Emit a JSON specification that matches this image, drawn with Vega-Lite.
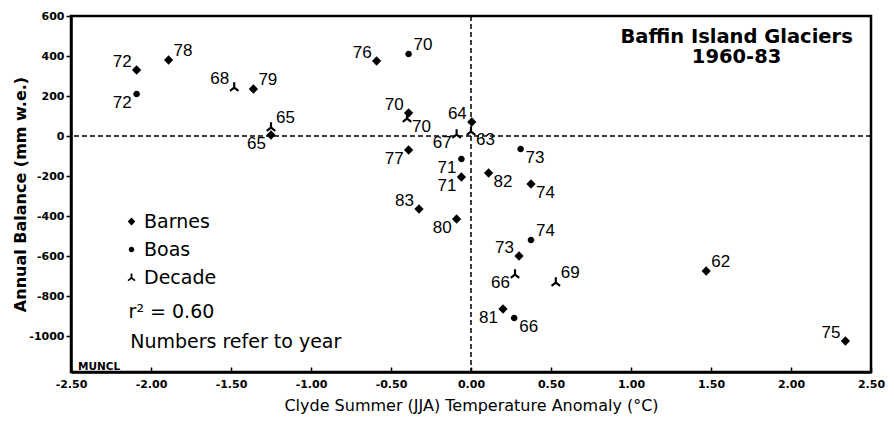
{
  "$schema": "https://vega.github.io/schema/vega-lite/v6.json",
  "width": 800,
  "height": 356,
  "autosize": {"type": "none"},
  "padding": {"left": 71, "top": 16, "right": 23, "bottom": 49},
  "background": "white",
  "config": {
    "view": {"stroke": "black", "strokeWidth": 2.5},
    "axis": {"domainColor": "black", "tickColor": "black", "labelColor": "black", "titleColor": "black", "grid": false, "domainWidth": 2.5, "tickWidth": 1.5},
    "legend": {"orient": "none", "legendX": 51, "legendY": 196, "padding": 0, "labelFont": "DejaVu Sans", "labelFontSize": 19, "labelColor": "black", "symbolFillColor": "black", "symbolStrokeColor": "black", "symbolStrokeWidth": 0, "symbolSize": 64, "rowPadding": 8, "labelOffset": 3}
  },
  "data": {"values": [
    {"glacier": "Barnes", "year": "72", "temp": -2.09, "balance": 330},
    {"glacier": "Boas", "year": "72", "temp": -2.09, "balance": 210},
    {"glacier": "Barnes", "year": "78", "temp": -1.89, "balance": 380},
    {"glacier": "Decade", "year": "68", "temp": -1.48, "balance": 245},
    {"glacier": "Barnes", "year": "79", "temp": -1.36, "balance": 235},
    {"glacier": "Decade", "year": "65", "temp": -1.25, "balance": 45},
    {"glacier": "Barnes", "year": "65", "temp": -1.25, "balance": 5},
    {"glacier": "Barnes", "year": "76", "temp": -0.59, "balance": 375},
    {"glacier": "Boas", "year": "70", "temp": -0.39, "balance": 410},
    {"glacier": "Barnes", "year": "70", "temp": -0.39, "balance": 115},
    {"glacier": "Decade", "year": "70", "temp": -0.40, "balance": 90},
    {"glacier": "Barnes", "year": "64", "temp": 0.005, "balance": 70},
    {"glacier": "Decade", "year": "63", "temp": 0.0, "balance": 25},
    {"glacier": "Decade", "year": "67", "temp": -0.09, "balance": 10},
    {"glacier": "Barnes", "year": "77", "temp": -0.39, "balance": -70},
    {"glacier": "Boas", "year": "71", "temp": -0.06, "balance": -115},
    {"glacier": "Barnes", "year": "71", "temp": -0.06, "balance": -205},
    {"glacier": "Barnes", "year": "82", "temp": 0.11, "balance": -185},
    {"glacier": "Boas", "year": "73", "temp": 0.31, "balance": -65},
    {"glacier": "Barnes", "year": "74", "temp": 0.375, "balance": -240},
    {"glacier": "Barnes", "year": "83", "temp": -0.325, "balance": -365},
    {"glacier": "Barnes", "year": "80", "temp": -0.09, "balance": -415},
    {"glacier": "Boas", "year": "74", "temp": 0.375, "balance": -520},
    {"glacier": "Barnes", "year": "73", "temp": 0.30, "balance": -600},
    {"glacier": "Decade", "year": "66", "temp": 0.275, "balance": -690},
    {"glacier": "Decade", "year": "69", "temp": 0.53, "balance": -730},
    {"glacier": "Barnes", "year": "81", "temp": 0.20, "balance": -865},
    {"glacier": "Boas", "year": "66", "temp": 0.27, "balance": -910},
    {"glacier": "Barnes", "year": "62", "temp": 1.47, "balance": -675},
    {"glacier": "Barnes", "year": "75", "temp": 2.34, "balance": -1025}
  ]},
  "layer": [
    {
      "data": {"values": [{}]},
      "mark": {"type": "rule", "strokeDash": [5, 3], "strokeWidth": 1.5, "color": "black"},
      "encoding": {"x": {"datum": 0, "type": "quantitative"}}
    },
    {
      "data": {"values": [{}]},
      "mark": {"type": "rule", "strokeDash": [5, 3], "strokeWidth": 1.5, "color": "black"},
      "encoding": {"y": {"datum": 0, "type": "quantitative"}}
    },
    {
      "mark": {"type": "point", "filled": true, "opacity": 1, "color": "black", "size": 95},
      "encoding": {
        "x": {"field": "temp", "type": "quantitative",
          "scale": {"domain": [-2.5, 2.5], "nice": false, "zero": false},
          "axis": {"title": "Clyde Summer (JJA) Temperature Anomaly (°C)", "values": [-2.5, -2, -1.5, -1, -0.5, 0, 0.5, 1, 1.5, 2, 2.5],
            "labelExpr": "(datum.value < 0 ? '-' : '') + format(abs(datum.value), '.2f')",
            "tickSize": -5, "labelPadding": 11, "labelFlush": false, "labelFont": "DejaVu Sans", "labelFontWeight": "bold", "labelFontSize": 11,
            "titleFont": "DejaVu Sans", "titleFontWeight": "normal", "titleFontSize": 16, "titlePadding": 8}},
        "y": {"field": "balance", "type": "quantitative",
          "scale": {"domain": [-1180, 600], "nice": false, "zero": false},
          "axis": {"title": "Annual Balance (mm w.e.)", "values": [-1000, -800, -600, -400, -200, 0, 200, 400, 600],
            "labelExpr": "(datum.value < 0 ? '-' : '') + abs(datum.value)",
            "tickSize": 5, "labelPadding": 2, "labelFlush": false, "labelFont": "DejaVu Sans", "labelFontWeight": "bold", "labelFontSize": 11,
            "titleFont": "DejaVu Sans", "titleFontWeight": "bold", "titleFontSize": 16, "titleX": -51, "titleBaseline": "middle"}},
        "shape": {"field": "glacier", "type": "nominal",
          "scale": {"domain": ["Barnes", "Boas", "Decade"], "range": [
            "M 0 -1 L 0.95 0 L 0 1 L -0.95 0 Z",
            "M 0.68 0 A 0.68 0.68 0 1 1 -0.68 0 A 0.68 0.68 0 1 1 0.68 0 Z",
            "M -0.22 -1 L 0.22 -1 L 0.22 0.02 L 1 0.6 L 0.76 0.95 L 0 0.4 L -0.76 0.95 L -1 0.6 L -0.22 0.02 Z"]},
          "legend": {"title": null}}
      }
    },
    {
      "transform": [{"filter": "indexof(['Barnes72','Decade68','Barnes76','Barnes70','Barnes64','Barnes83','Barnes73','Barnes75'], datum.glacier + datum.year) >= 0"}],
      "mark": {"type": "text", "align": "right", "baseline": "alphabetic", "dx": -5, "dy": -3, "font": "Liberation Sans Narrow, Liberation Sans", "fontSize": 17, "color": "black"},
      "encoding": {"x": {"field": "temp", "type": "quantitative"}, "y": {"field": "balance", "type": "quantitative"}, "text": {"field": "year"}}
    },
    {
      "transform": [{"filter": "indexof(['Barnes78','Barnes79','Decade65','Boas70','Boas74','Decade69','Barnes62'], datum.glacier + datum.year) >= 0"}],
      "mark": {"type": "text", "align": "left", "baseline": "alphabetic", "dx": 5, "dy": -4, "font": "Liberation Sans Narrow, Liberation Sans", "fontSize": 17, "color": "black"},
      "encoding": {"x": {"field": "temp", "type": "quantitative"}, "y": {"field": "balance", "type": "quantitative"}, "text": {"field": "year"}}
    },
    {
      "transform": [{"filter": "indexof(['Boas72','Barnes65','Decade67','Barnes77','Boas71','Barnes71','Barnes80','Decade66','Barnes81'], datum.glacier + datum.year) >= 0"}],
      "mark": {"type": "text", "align": "right", "baseline": "top", "dx": -5, "dy": 1, "font": "Liberation Sans Narrow, Liberation Sans", "fontSize": 17, "color": "black"},
      "encoding": {"x": {"field": "temp", "type": "quantitative"}, "y": {"field": "balance", "type": "quantitative"}, "text": {"field": "year"}}
    },
    {
      "transform": [{"filter": "indexof(['Decade70','Decade63','Barnes82','Boas73','Barnes74','Boas66'], datum.glacier + datum.year) >= 0"}],
      "mark": {"type": "text", "align": "left", "baseline": "top", "dx": 5, "dy": 1, "font": "Liberation Sans Narrow, Liberation Sans", "fontSize": 17, "color": "black"},
      "encoding": {"x": {"field": "temp", "type": "quantitative"}, "y": {"field": "balance", "type": "quantitative"}, "text": {"field": "year"}}
    },
    {
      "data": {"values": [{}]},
      "mark": {"type": "text", "text": ["Baffin Island Glaciers", "1960-83"], "align": "center", "baseline": "alphabetic", "font": "DejaVu Sans", "fontWeight": "bold", "fontSize": 19.5, "lineHeight": 20, "color": "black"},
      "encoding": {"x": {"datum": 1.66, "type": "quantitative"}, "y": {"datum": 465, "type": "quantitative"}}
    },
    {
      "data": {"values": [{}]},
      "mark": {"type": "text", "text": "r² = 0.60", "align": "left", "baseline": "alphabetic", "font": "DejaVu Sans", "fontSize": 19, "color": "black"},
      "encoding": {"x": {"datum": -2.14, "type": "quantitative"}, "y": {"datum": -910, "type": "quantitative"}}
    },
    {
      "data": {"values": [{}]},
      "mark": {"type": "text", "text": "Numbers refer to year", "align": "left", "baseline": "alphabetic", "font": "DejaVu Sans", "fontSize": 19, "color": "black"},
      "encoding": {"x": {"datum": -2.13, "type": "quantitative"}, "y": {"datum": -1060, "type": "quantitative"}}
    },
    {
      "data": {"values": [{}]},
      "mark": {"type": "text", "text": "MUNCL", "align": "left", "baseline": "alphabetic", "font": "DejaVu Sans", "fontWeight": "bold", "fontSize": 10.5, "color": "black"},
      "encoding": {"x": {"datum": -2.456, "type": "quantitative"}, "y": {"datum": -1170, "type": "quantitative"}}
    }
  ]
}
